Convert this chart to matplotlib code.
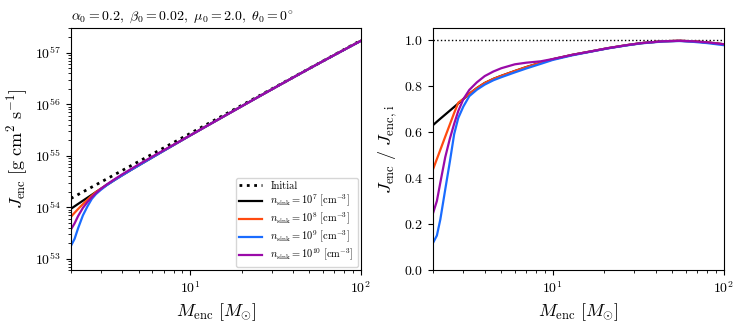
import numpy as np
import matplotlib
matplotlib.use("Agg")
import matplotlib.pyplot as plt

plt.rcParams["font.family"] = "serif"
plt.rcParams["font.serif"] = ["cmr10", "DejaVu Serif"]
plt.rcParams["mathtext.fontset"] = "cm"
plt.rcParams["axes.formatter.use_mathtext"] = True
plt.rcParams["axes.unicode_minus"] = False

# enclosed mass grid [Msun]
m_enc = [2.0, 2.1, 2.2, 2.35, 2.5, 2.65, 2.8, 3.0, 3.25, 3.6, 4.0, 4.5, 5.0, 6.0,
         7.0, 8.5, 10, 13, 17, 21, 27, 33, 44, 55, 65, 80, 100]

# initial enclosed angular momentum [g cm^2 s^-1]
j_init = [1.479e54, 1.615e54, 1.758e54, 1.980e54, 2.213e54, 2.458e54, 2.716e54,
          3.076e54, 3.555e54, 4.276e54, 5.172e54, 6.400e54, 7.741e54, 1.076e55,
          1.421e55, 2.018e55, 2.708e55, 4.349e55, 7.062e55, 1.034e56, 1.628e56,
          2.339e56, 3.933e56, 5.886e56, 7.957e56, 1.158e57, 1.733e57]

# J_enc / J_enc,i for each sink density
ratio_n7 = [0.63, 0.644, 0.657, 0.675, 0.692, 0.708, 0.723, 0.742, 0.765, 0.79,
            0.812, 0.83, 0.843, 0.864, 0.881, 0.90, 0.915, 0.934, 0.95, 0.963,
            0.976, 0.985, 0.993, 0.995, 0.993, 0.988, 0.98]
ratio_n8 = [0.44, 0.482, 0.522, 0.579, 0.632, 0.682, 0.726, 0.743, 0.765, 0.79,
            0.812, 0.83, 0.843, 0.864, 0.881, 0.90, 0.915, 0.934, 0.95, 0.963,
            0.976, 0.985, 0.993, 0.995, 0.993, 0.988, 0.98]
ratio_n9 = [0.12, 0.15, 0.22, 0.35, 0.47, 0.59, 0.66, 0.71, 0.755, 0.783,
            0.805, 0.824, 0.837, 0.858, 0.875, 0.895, 0.912, 0.932, 0.949, 0.962,
            0.975, 0.984, 0.992, 0.994, 0.991, 0.985, 0.976]
ratio_n10 = [0.25, 0.30, 0.38, 0.49, 0.57, 0.635, 0.69, 0.742, 0.782, 0.815,
             0.842, 0.862, 0.876, 0.893, 0.90, 0.906, 0.916, 0.934, 0.95, 0.963,
             0.976, 0.985, 0.993, 0.995, 0.993, 0.988, 0.98]

ratios = [ratio_n7, ratio_n8, ratio_n9, ratio_n10]
labels = [r"$n_{\rm sink} = 10^{7}\ [{\rm cm}^{-3}]$",
          r"$n_{\rm sink} = 10^{8}\ [{\rm cm}^{-3}]$",
          r"$n_{\rm sink} = 10^{9}\ [{\rm cm}^{-3}]$",
          r"$n_{\rm sink} = 10^{10}\ [{\rm cm}^{-3}]$"]
colors = ["black", "#ff4a10", "#1a6cff", "#9a0aa8"]

m = np.array(m_enc)
j0 = np.array(j_init)

fig = plt.figure(figsize=(7.47, 3.27), dpi=100)
ax1 = fig.add_axes([0.095, 0.174, 0.388, 0.740])
ax2 = fig.add_axes([0.580, 0.174, 0.389, 0.740])

# left: J_enc
ax1.plot(m, j0, color="black", linestyle=":", linewidth=2, label="Initial")
for r, lab, c in zip(ratios, labels, colors):
    ax1.plot(m, j0 * np.array(r), color=c, linewidth=1.6, label=lab)
ax1.set_xscale("log")
ax1.set_yscale("log")
ax1.set_xlim(2, 100)
ax1.set_ylim(6e52, 3e57)
ax1.set_xlabel(r"$M_{\rm enc}\ [M_{\odot}]$", fontsize=13)
ax1.set_ylabel(r"$J_{\rm enc}\ [{\rm g\ cm^2\ s^{-1}}]$", fontsize=13)
ax1.set_title(r"$\alpha_0 = 0.2,\ \beta_0 = 0.02,\ \mu_0 = 2.0,\ \theta_0 = 0^{\circ}$",
              loc="left", fontsize=10)
ax1.tick_params(labelsize=10)
ax1.legend(loc="lower right", fontsize=7.5, handlelength=2.2, labelspacing=0.2,
           borderaxespad=0.3, borderpad=0.35)

# right: J_enc / J_enc,i
ax2.plot([2, 100], [1.0, 1.0], color="black", linestyle=":", linewidth=1)
for r, c in zip(ratios, colors):
    ax2.plot(m, r, color=c, linewidth=1.6)
ax2.set_xscale("log")
ax2.set_xlim(2, 100)
ax2.set_ylim(0, 1.05)
ax2.set_yticks([0.0, 0.2, 0.4, 0.6, 0.8, 1.0])
ax2.set_xlabel(r"$M_{\rm enc}\ [M_{\odot}]$", fontsize=13)
ax2.set_ylabel(r"$J_{\rm enc}\ /\ J_{\rm enc,\,i}$", fontsize=13)
ax2.tick_params(labelsize=10)

fig.savefig("out.png", dpi=100)
